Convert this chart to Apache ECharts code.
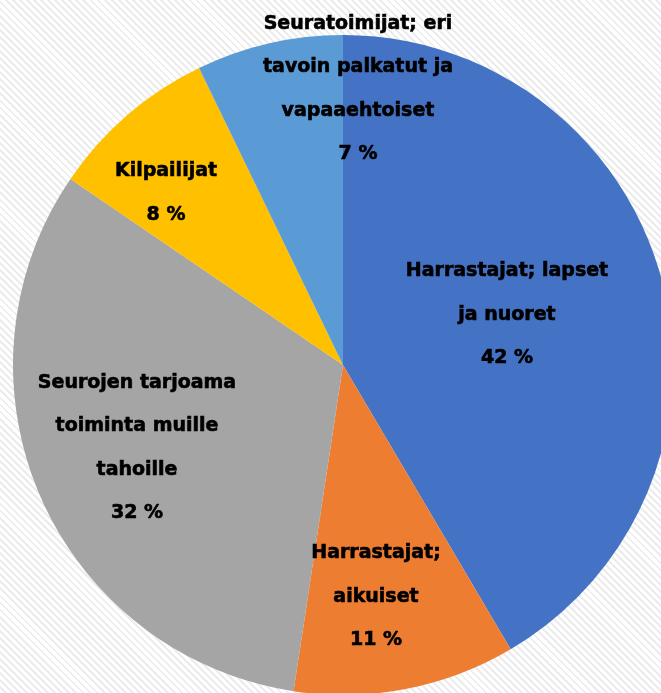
<!DOCTYPE html>
<html>
<head>
<meta charset="utf-8">
<script src="https://cdn.jsdelivr.net/npm/echarts@6/dist/echarts.min.js"></script>
<style>
html,body{margin:0;padding:0;}
body{
  background-color:#f7f7f7;
  background-image:repeating-linear-gradient(45deg,#ffffff 0px,#ffffff 3px,#ececec 3px,#ececec 5px);
}
#main{width:661px;height:693px;}
</style>
</head>
<body>
<div id="main"></div>
<script>
// ryhmät ja osuudet (%)
var categories = [
  'Harrastajat; lapset\nja nuoret',
  'Harrastajat;\naikuiset',
  'Seurojen tarjoama\ntoiminta muille\ntahoille',
  'Kilpailijat',
  'Seuratoimijat; eri\ntavoin palkatut ja\nvapaaehtoiset'
];
var values = [41.6, 10.9, 32.2, 8.3, 7.2];
var colors = ['#4472C4', '#ED7D31', '#A5A5A5', '#FFC000', '#5B9BD5'];

// tekstien keskipisteet
var labelPos = [[507, 315], [376, 597], [137, 448], [166, 193], [358, 89]];

var myChart = echarts.init(document.getElementById('main'));

var data = [];
for (var i = 0; i < values.length; i++) {
  data.push({ name: categories[i], value: values[i], itemStyle: { color: colors[i] } });
}

var option = {
  backgroundColor: 'transparent',
  animation: false,
  series: [
    {
      type: 'pie',
      center: [343, 365],
      radius: 330,
      startAngle: 90,
      clockwise: true,
      silent: true,
      data: data,
      itemStyle: { borderWidth: 0 },
      label: {
        show: true,
        position: 'inside',
        formatter: function (p) { return p.name + '\n' + Math.round(p.value) + ' %'; },
        color: '#000',
        fontFamily: 'DejaVu Sans',
        fontWeight: 'bold',
        fontSize: 19,
        lineHeight: 43.5,
        textBorderColor: '#000',
        textBorderWidth: 0.6,
        align: 'center'
      },
      labelLine: { show: false },
      labelLayout: function (p) {
        var r = p.labelRect;
        var t = labelPos[p.dataIndex];
        return { dx: t[0] - (r.x + r.width / 2), dy: t[1] - (r.y + r.height / 2) };
      }
    }
  ]
};
myChart.setOption(option);
</script>
</body>
</html>
